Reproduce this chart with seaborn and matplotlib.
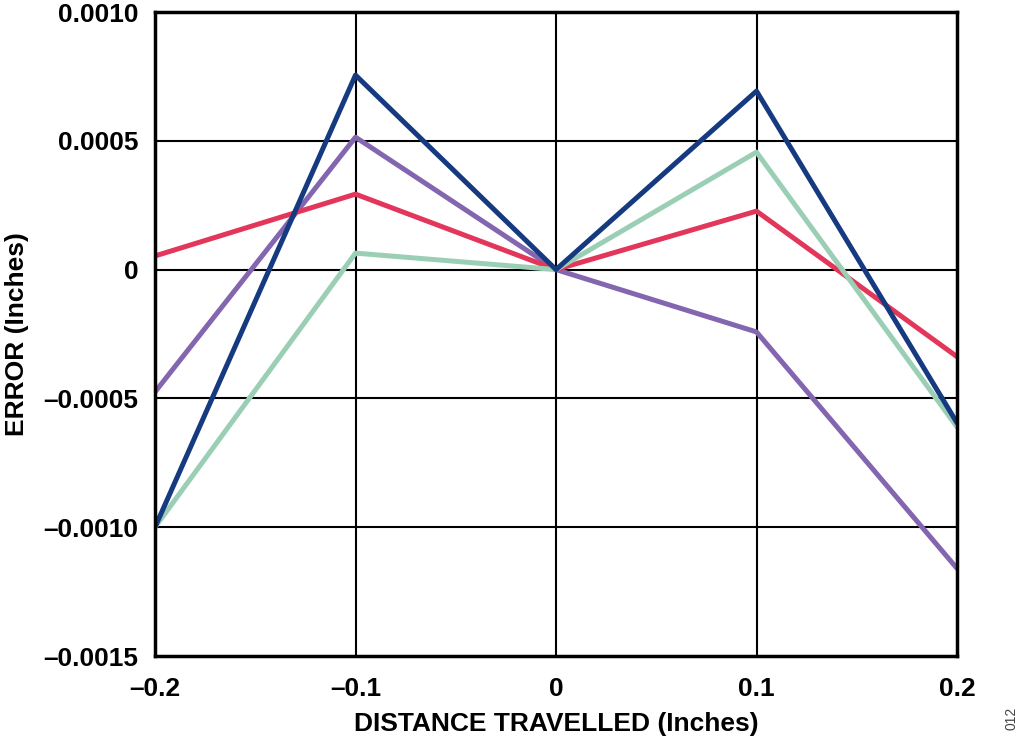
import matplotlib
matplotlib.use("Agg")
import matplotlib.pyplot as plt
import seaborn as sns
import pandas as pd
from matplotlib.ticker import FixedLocator

sns.set_theme(style="white")
plt.rcParams['font.family'] = ['Liberation Sans', 'DejaVu Sans']
plt.rcParams['text.color'] = 'black'
plt.rcParams['axes.labelcolor'] = 'black'
plt.rcParams['xtick.color'] = 'black'
plt.rcParams['ytick.color'] = 'black'

distance = [-0.2, -0.1, 0.0, 0.1, 0.2]
navy = [-0.00100, 0.000755, 0.0, 0.000693, -0.000595]
purple = [-0.000475, 0.000514, 0.0, -0.000242, -0.00116]
red = [0.000053, 0.000293, 0.0, 0.000227, -0.000338]
green = [-0.00100, 0.000064, 0.0, 0.000456, -0.000611]

series_names = ["navy", "purple", "red", "green"]
series_vals = [navy, purple, red, green]
colors = {"navy": "#163a80", "purple": "#8466b0", "red": "#e2365a", "green": "#9bcfb5"}

rows = []
for n, v in zip(series_names, series_vals):
    for x, y in zip(distance, v):
        rows.append({"x": x, "y": y, "s": n})
df = pd.DataFrame(rows)

fig = plt.figure(figsize=(10.24, 7.48), dpi=100)
ax = fig.add_axes([155/1024, (748-656)/748, 802/1024, 644/748])

for x in [-0.1, 0.0, 0.1]:
    ax.axvline(x, color="black", lw=1.5, zorder=1)
for y in [-0.0010, -0.0005, 0.0, 0.0005]:
    ax.axhline(y, color="black", lw=1.5, zorder=1)

sns.lineplot(data=df, x="x", y="y", hue="s", palette=colors, hue_order=["purple", "red", "green", "navy"],
             lw=3.6, legend=False, ax=ax, zorder=3)

ax.set_xlim(-0.2, 0.2)
ax.set_ylim(-0.0015, 0.0010)
xt = [-0.2, -0.1, 0.0, 0.1, 0.2]
xl = ["\u20130.2", "\u20130.1", "0", "0.1", "0.2"]
yt = [-0.0015, -0.0010, -0.0005, 0.0, 0.0005, 0.0010]
yl = ["\u20130.0015", "\u20130.0010", "\u20130.0005", "0", "0.0005", "0.0010"]
ax.xaxis.set_major_locator(FixedLocator(xt))
ax.yaxis.set_major_locator(FixedLocator(yt))
ax.set_xticklabels(xl, fontsize=19, fontweight="bold")
ax.set_yticklabels(yl, fontsize=19, fontweight="bold")
ax.tick_params(axis="both", length=0)
ax.tick_params(axis="y", pad=12)
ax.tick_params(axis="x", pad=15)
ax.set_xlabel("DISTANCE TRAVELLED (Inches)", fontsize=19, fontweight="bold", labelpad=8)
ax.set_ylabel("ERROR (Inches)", fontsize=19, fontweight="bold", labelpad=10)
for sp in ax.spines.values():
    sp.set_visible(True)
    sp.set_color("black")
    sp.set_linewidth(2.5)
    sp.set_zorder(4)

fig.text(1012/1024, 1 - 718/748, "012", rotation=90, fontsize=10, color="#444444", ha="center", va="center")

fig.savefig("out.png", dpi=100)
